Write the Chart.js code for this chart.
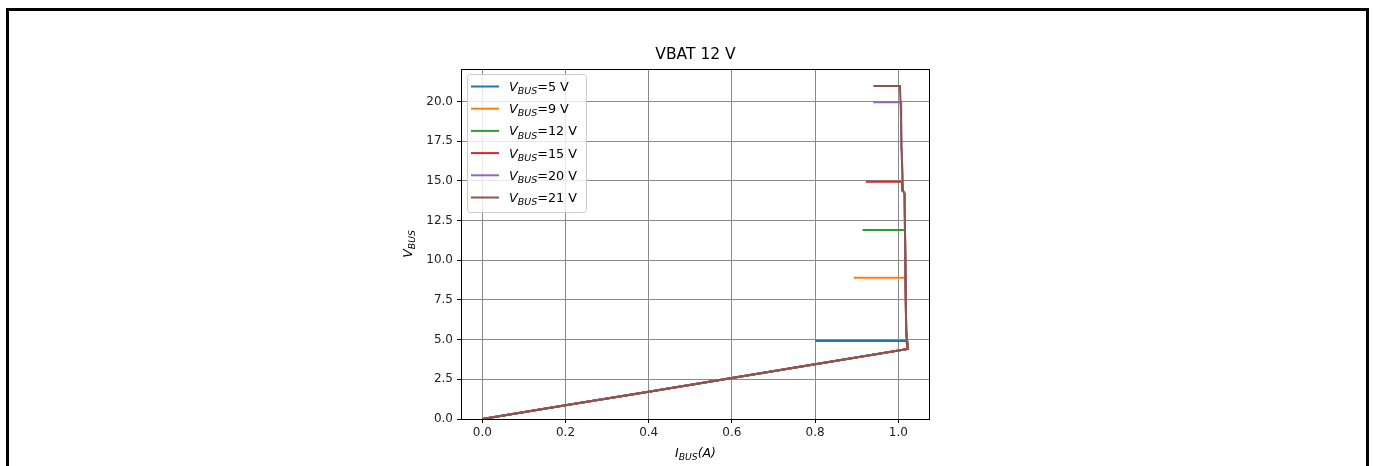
<!DOCTYPE html>
<html>
<head>
<meta charset="utf-8">
<script src="https://cdn.jsdelivr.net/npm/chart.js@4.4.1/dist/chart.umd.min.js"></script>
<style>
  html, body { margin: 0; padding: 0; background: #fff; overflow: hidden; }
  #wrap { position: relative; width: 1373px; height: 466px; }
  #frame { position: absolute; left: 6px; top: 8px; width: 1363px; height: 480px;
           border: 3px solid #000; border-bottom: none; box-sizing: border-box; }
  #c { position: absolute; left: 0; top: 0; }
</style>
</head>
<body>
<div id="wrap">
  <div id="frame"></div>
  <canvas id="c" width="1373" height="466"></canvas>
</div>
<script>
// data
const chartTitle = 'VBAT 12 V';
const busLevels = ['5', '9', '12', '15', '20', '21'];
const lineColors = ['#1f77b4', '#ff7f0e', '#2ca02c', '#d62728', '#9467bd', '#8c564b'];
const xTicks = [0, 0.2, 0.4, 0.6, 0.8, 1.0];
const yTicks = [0, 2.5, 5, 7.5, 10, 12.5, 15, 17.5, 20];

const i5 = [0, 0.2, 0.4, 0.6, 0.8, 1.023, 1.019, 0.80];
const v5 = [0, 0.86, 1.72, 2.58, 3.45, 4.41, 4.92, 4.92];
const i9 = [0, 0.2, 0.4, 0.6, 0.8, 1.023, 1.019, 1.017, 0.893];
const v9 = [0, 0.86, 1.72, 2.58, 3.45, 4.41, 5.5, 8.9, 8.9];
const i12 = [0, 0.2, 0.4, 0.6, 0.8, 1.023, 1.019, 1.016, 0.914];
const v12 = [0, 0.86, 1.72, 2.58, 3.45, 4.41, 5.5, 11.9, 11.9];
const i15 = [0, 0.2, 0.4, 0.6, 0.8, 1.023, 1.019, 1.015, 1.011, 1.009, 0.922];
const v15 = [0, 0.86, 1.72, 2.58, 3.45, 4.41, 5.5, 14.2, 14.4, 14.95, 14.95];
const i20 = [0, 0.2, 0.4, 0.6, 0.8, 1.023, 1.019, 1.015, 1.011, 1.008, 1.007, 0.94];
const v20 = [0, 0.86, 1.72, 2.58, 3.45, 4.41, 5.5, 14.2, 14.4, 17, 19.95, 19.95];
const i21 = [0, 0.2, 0.4, 0.6, 0.8, 1.023, 1.019, 1.015, 1.011, 1.008, 1.006, 1.004, 0.94];
const v21 = [0, 0.86, 1.72, 2.58, 3.45, 4.41, 5.5, 14.2, 14.4, 17, 19.5, 20.98, 20.98];

const curvesI = [i5, i9, i12, i15, i20, i21];
const curvesV = [v5, v9, v12, v15, v20, v21];

const FONT = '"DejaVu Sans", sans-serif';

// draws text made of pieces, some italic and some as subscripts
function mathText(ctx, x, y, parts, size, align) {
  const subSize = size * 0.74;
  const fontOf = (p) => (p.italic ? 'italic ' : '') + (p.sub ? subSize : size) + 'px ' + FONT;
  let w = 0;
  parts.forEach((p) => { ctx.font = fontOf(p); w += ctx.measureText(p.t).width; });
  let cx = align === 'center' ? x - w / 2 : x;
  ctx.textAlign = 'left';
  ctx.textBaseline = 'alphabetic';
  parts.forEach((p) => {
    ctx.font = fontOf(p);
    ctx.fillText(p.t, cx, p.sub ? y + size * 0.25 : y);
    cx += ctx.measureText(p.t).width;
  });
}

const decor = {
  id: 'decor',
  afterDraw(chart) {
    const { ctx, chartArea: a } = chart;
    ctx.save();
    ctx.fillStyle = '#000';

    // axes box
    ctx.strokeStyle = '#000';
    ctx.lineWidth = 1;
    ctx.strokeRect(Math.round(a.left) + 0.5, Math.round(a.top) + 0.5,
      Math.round(a.right - a.left) - 1, Math.round(a.bottom - a.top));

    // title
    ctx.font = '15.5px ' + FONT;
    ctx.textAlign = 'center';
    ctx.textBaseline = 'alphabetic';
    ctx.fillText(chartTitle, (a.left + a.right) / 2, 59);

    // axis labels
    mathText(ctx, (a.left + a.right) / 2, 457,
      [{ t: 'I', italic: true }, { t: 'BUS', italic: true, sub: true }, { t: '(A)', italic: true }], 12.5, 'center');
    ctx.save();
    ctx.translate(412, (a.top + a.bottom) / 2);
    ctx.rotate(-Math.PI / 2);
    mathText(ctx, 0, 0, [{ t: 'V', italic: true }, { t: 'BUS', italic: true, sub: true }], 12.5, 'center');
    ctx.restore();

    // legend
    const lx = a.left + 6, ly = a.top + 5, lw = 119, lh = 138;
    ctx.beginPath();
    ctx.roundRect(lx + 0.5, ly + 0.5, lw, lh, 3);
    ctx.fillStyle = 'rgba(255,255,255,0.8)';
    ctx.fill();
    ctx.strokeStyle = '#cccccc';
    ctx.stroke();
    busLevels.forEach((lvl, i) => {
      const ry = ly + 12.5 + i * 22.2;
      ctx.strokeStyle = lineColors[i];
      ctx.lineWidth = 2;
      ctx.beginPath();
      ctx.moveTo(lx + 4, ry);
      ctx.lineTo(lx + 32, ry);
      ctx.stroke();
      ctx.fillStyle = '#000';
      mathText(ctx, lx + 42, ry + 4.5,
        [{ t: 'V', italic: true }, { t: 'BUS', italic: true, sub: true }, { t: '=' + lvl + ' V' }], 12.8, 'left');
    });
    ctx.restore();
  }
};

new Chart(document.getElementById('c'), {
  type: 'scatter',
  data: {
    datasets: busLevels.map((lvl, k) => ({
      label: 'VBUS=' + lvl + ' V',
      data: curvesI[k].map((x, j) => ({ x: x, y: curvesV[k][j] })),
      showLine: true,
      borderColor: lineColors[k],
      backgroundColor: lineColors[k],
      borderWidth: 2,
      pointRadius: 0,
      tension: 0,
      order: busLevels.length - k,
    })),
  },
  options: {
    responsive: false,
    animation: false,
    devicePixelRatio: 1,
    layout: { padding: { left: 411, right: 443, top: 69, bottom: 0 } },
    plugins: { legend: { display: false }, title: { display: false }, tooltip: { enabled: false } },
    scales: {
      x: {
        type: 'linear',
        min: -0.0512,
        max: 1.0762,
        afterBuildTicks: (s) => { s.ticks = xTicks.map((v) => ({ value: v })); },
        afterFit: (s) => { s.height = 47; },
        grid: { color: '#8a8a8a', lineWidth: 1, tickLength: 4, tickColor: '#000' },
        border: { display: false },
        ticks: { color: '#222', font: { family: FONT, size: 12 }, padding: 3,
                 maxRotation: 0, callback: (v) => Number(v).toFixed(1) },
      },
      y: {
        type: 'linear',
        min: 0,
        max: 22.05,
        afterBuildTicks: (s) => { s.ticks = yTicks.map((v) => ({ value: v })); },
        afterFit: (s) => { s.width = 50; },
        grid: { color: '#8a8a8a', lineWidth: 1, tickLength: 4, tickColor: '#000' },
        border: { display: false },
        ticks: { color: '#222', font: { family: FONT, size: 12 }, padding: 4,
                 callback: (v) => Number(v).toFixed(1) },
      },
    },
  },
  plugins: [decor],
});
</script>
</body>
</html>
